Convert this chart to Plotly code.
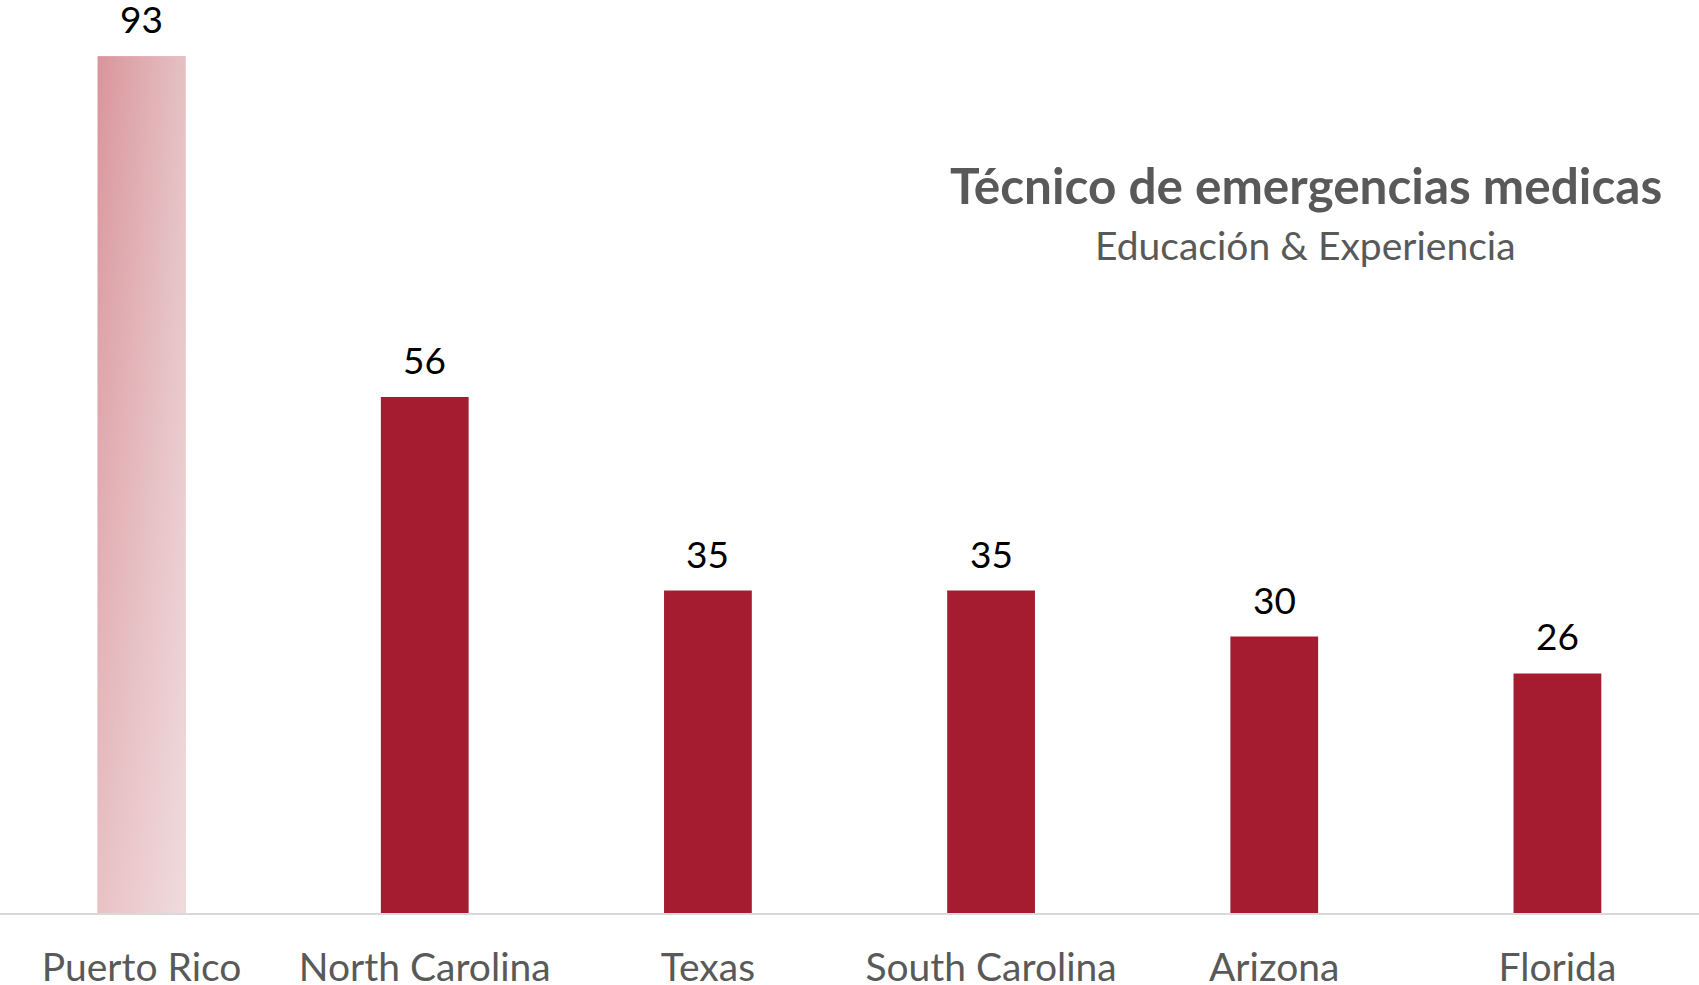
import plotly.graph_objects as go

# Data
states = ["Puerto Rico", "North Carolina", "Texas", "South Carolina", "Arizona", "Florida"]
counts = [93, 56, 35, 35, 30, 26]

title_text = "Técnico de emergencias medicas"
subtitle_text = "Educación & Experiencia"

BAR_COLOR = "#A51C30"
GRAY = "#595959"
FONT = "Lato"
BAR_W = 0.31

positions = list(range(len(states)))

fig = go.Figure()

# Regular bars (first one gets a pale base, a gradient is layered on top of it)
fig.add_trace(go.Bar(
    x=positions,
    y=counts,
    width=BAR_W,
    marker=dict(color=["#E2B3B8"] + [BAR_COLOR] * (len(states) - 1), line=dict(width=0)),
    hoverinfo="skip",
    showlegend=False,
))

# Gradient fill for the leading bar
x0, v0 = positions[0], counts[0]
poly_x = [x0 - BAR_W / 2, x0 + BAR_W / 2, x0 + BAR_W / 2, x0 - BAR_W / 2, x0 - BAR_W / 2]
poly_y = [0, 0, v0, v0, 0]
fig.add_trace(go.Scatter(
    x=poly_x, y=poly_y, mode="lines", fill="toself",
    line=dict(width=0, color="rgba(0,0,0,0)"),
    fillgradient=dict(type="horizontal", start=poly_x[0], stop=poly_x[1],
                      colorscale=[[0, "#D9959B"], [1, "#E5C1C4"]]),
    hoverinfo="skip", showlegend=False,
))
fig.add_trace(go.Scatter(
    x=poly_x, y=poly_y, mode="lines", fill="toself",
    line=dict(width=0, color="rgba(0,0,0,0)"),
    fillgradient=dict(type="vertical", start=0, stop=v0,
                      colorscale=[[0, "rgba(255,255,255,0.42)"], [1, "rgba(255,255,255,0)"]]),
    hoverinfo="skip", showlegend=False,
))

# Value labels above bars
for p, v in zip(positions, counts):
    fig.add_annotation(
        x=p, y=v, xref="x", yref="y",
        text=str(v), showarrow=False,
        yanchor="bottom", yshift=13,
        font=dict(family=FONT, size=37, color="#000000"),
    )

# Title block
fig.add_annotation(
    x=0.7684, y=1 - 217 / 913, xref="paper", yref="paper",
    text="<b>" + title_text + "</b>", showarrow=False,
    xanchor="center", yanchor="bottom",
    font=dict(family=FONT, size=49.5, color=GRAY),
)
fig.add_annotation(
    x=0.7684, y=1 - 270 / 913, xref="paper", yref="paper",
    text=subtitle_text, showarrow=False,
    xanchor="center", yanchor="bottom",
    font=dict(family=FONT, size=39, color=GRAY),
)

fig.update_layout(
    width=1699, height=985,
    margin=dict(l=0, r=0, t=0, b=72, autoexpand=False),
    paper_bgcolor="white", plot_bgcolor="white",
    bargap=0.69,
    xaxis=dict(
        range=[-0.5, 5.5],
        tickmode="array", tickvals=positions, ticktext=states,
        tickfont=dict(family=FONT, size=39, color=GRAY),
        showline=True, linecolor="#D9D9D9", linewidth=2,
        ticks="outside", ticklen=19, tickcolor="rgba(0,0,0,0)",
        automargin=False,
        showgrid=False, zeroline=False, fixedrange=True,
    ),
    yaxis=dict(
        range=[0, 99.1],
        visible=False, showgrid=False, zeroline=False, fixedrange=True,
        automargin=False,
    ),
)

fig.write_html("out.html")
